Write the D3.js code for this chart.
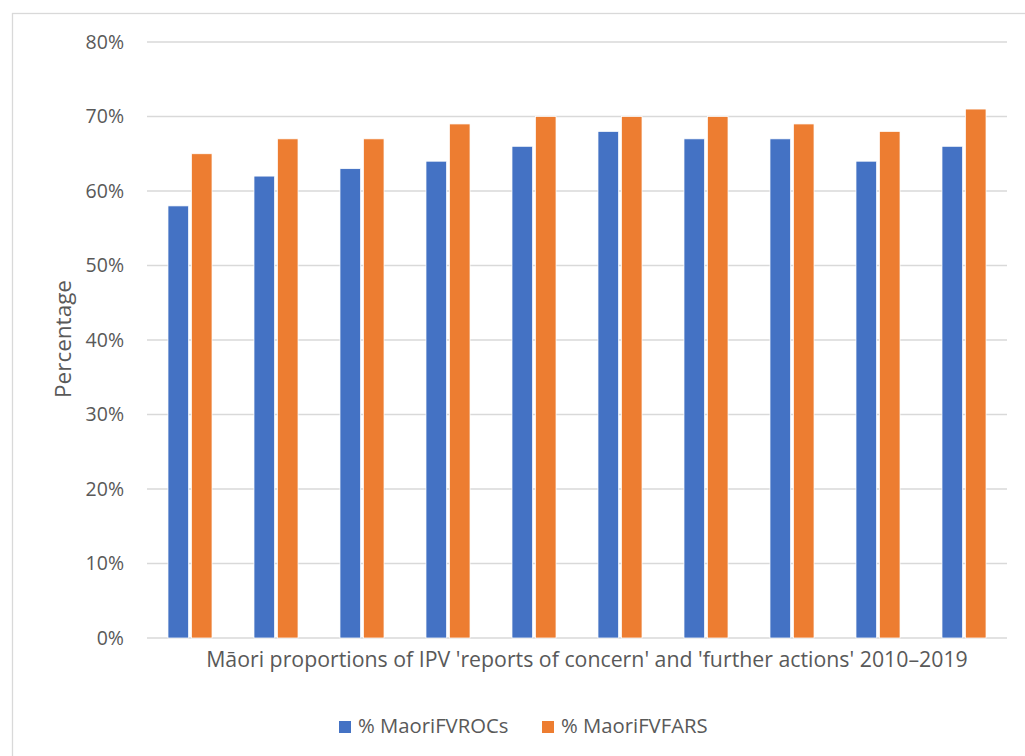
<!DOCTYPE html>
<html><head><meta charset="utf-8">
<script src="https://cdn.jsdelivr.net/npm/d3@7"></script>
<style>body{margin:0;background:#fff;} text{font-family:"Open Sans","Liberation Sans",sans-serif;fill:#595959;}</style>
</head><body>
<svg id="c" width="1025" height="756"></svg>
<script>
const years = ["2010","2011","2012","2013","2014","2015","2016","2017","2018","2019"];
const seriesNames = ["% MaoriFVROCs","% MaoriFVFARS"];
const rocs = [58,62,63,64,66,68,67,67,64,66];
const fars = [65,67,67,69,70,70,70,69,68,71];
const yTicks = [0,10,20,30,40,50,60,70,80];
const xTitle = "Māori proportions of IPV 'reports of concern' and 'further actions' 2010–2019";
const yTitle = "Percentage";
const colors = ["#4472C4","#ED7D31"];

const svg = d3.select("#c");
svg.append("rect").attr("x",12.5).attr("y",13.5).attr("width",1030).attr("height",760)
  .attr("fill","#fff").attr("stroke","#d9d9d9").attr("stroke-width",1.3);

const L=147,R=1007,T=42,B=638;
const x0 = d3.scaleBand().domain(years).range([L,R]).paddingInner(0.488).paddingOuter(0.244);
const x1 = d3.scaleBand().domain(seriesNames).range([0,x0.bandwidth()]).paddingInner(0.12);
const y = d3.scaleLinear().domain([0,80]).range([B,T]);

const grid = svg.append("g");
grid.selectAll("line").data(yTicks).join("line")
  .attr("x1",L).attr("x2",R).attr("y1",d=>y(d)).attr("y2",d=>y(d))
  .attr("stroke","#d9d9d9").attr("stroke-width",1.5);

const yAxis = d3.axisLeft(y).tickValues(yTicks).tickFormat(d=>d+"%").tickSize(0).tickPadding(23);
const ya = svg.append("g").attr("transform",`translate(${L},0)`).call(yAxis);
ya.select(".domain").remove();
ya.selectAll("text").style("font-size","19.5px").style("fill","#595959").attr("font-family",null);

const data = years.map((yr,i)=>({yr, vals:[rocs[i],fars[i]]}));
const g = svg.append("g");
data.forEach(d=>{
  d.vals.forEach((v,j)=>{
    g.append("rect").attr("x",x0(d.yr)+x1(seriesNames[j])).attr("y",y(v))
      .attr("width",x1.bandwidth()).attr("height",y(0)-y(v))
      .attr("fill",colors[j]).attr("stroke","#fff").attr("stroke-width",0.75);
  });
});

svg.append("text").attr("x",587).attr("y",667).attr("text-anchor","middle")
  .style("font-size","21.3px").text(xTitle);
svg.append("text").attr("transform","translate(71,339) rotate(-90)").attr("text-anchor","middle")
  .style("font-size","22.5px").text(yTitle);

const leg = svg.append("g");
const legX = [339,542];
seriesNames.forEach((s,j)=>{
  leg.append("rect").attr("x",legX[j]).attr("y",721).attr("width",12).attr("height",12).attr("fill",colors[j]);
  leg.append("text").attr("x",legX[j]+19).attr("y",733).style("font-size","20.3px").text(s);
});
</script>
</body></html>
